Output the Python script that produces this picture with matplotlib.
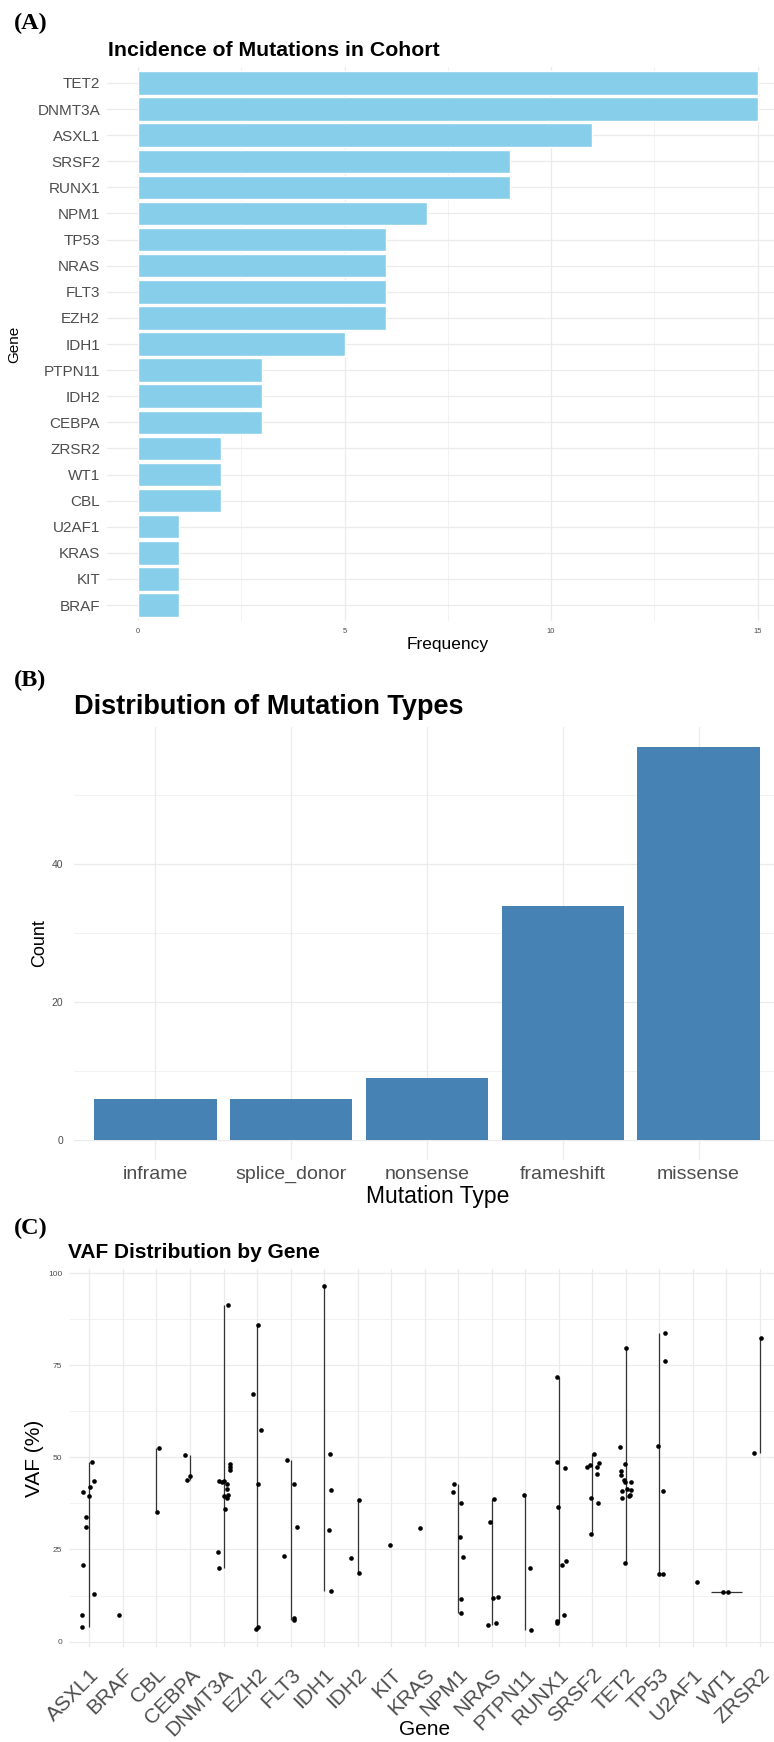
import matplotlib.pyplot as plt
import numpy as np

plt.rcParams['font.family'] = ['Liberation Sans', 'DejaVu Sans']

# ---- data: panel A (incidence of mutations)
genesA = ['TET2', 'DNMT3A', 'ASXL1', 'SRSF2', 'RUNX1', 'NPM1', 'TP53', 'NRAS', 'FLT3', 'EZH2', 'IDH1',
          'PTPN11', 'IDH2', 'CEBPA', 'ZRSR2', 'WT1', 'CBL', 'U2AF1', 'KRAS', 'KIT', 'BRAF']
freqA = [15, 15, 11, 9, 9, 7, 6, 6, 6, 6, 5, 3, 3, 3, 2, 2, 2, 1, 1, 1, 1]

# ---- data: panel B (mutation types)
typesB = ['inframe', 'splice_donor', 'nonsense', 'frameshift', 'missense']
countsB = [6, 6, 9, 34, 57]

# ---- data: panel C (VAF per gene, long format)
genesC = ['ASXL1', 'BRAF', 'CBL', 'CEBPA', 'DNMT3A', 'EZH2', 'FLT3', 'IDH1', 'IDH2', 'KIT', 'KRAS',
          'NPM1', 'NRAS', 'PTPN11', 'RUNX1', 'SRSF2', 'TET2', 'TP53', 'U2AF1', 'WT1', 'ZRSR2']
pt_gene = (['ASXL1'] * 11 + ['BRAF'] + ['CBL'] * 2 + ['CEBPA'] * 3 + ['DNMT3A'] * 15 + ['EZH2'] * 6
           + ['FLT3'] * 6 + ['IDH1'] * 5 + ['IDH2'] * 3 + ['KIT'] + ['KRAS'] + ['NPM1'] * 7 + ['NRAS'] * 6
           + ['PTPN11'] * 3 + ['RUNX1'] * 9 + ['SRSF2'] * 9 + ['TET2'] * 15 + ['TP53'] * 6 + ['U2AF1']
           + ['WT1'] * 2 + ['ZRSR2'] * 2)
pt_vaf = [48.8, 43.7, 41.9, 40.7, 39.5, 33.9, 31.0, 20.9, 12.9, 7.1, 4.1,
          7.1,
          52.6, 35.3,
          50.6, 43.8, 45.0,
          91.3, 48.1, 47.3, 46.6, 43.6, 43.2, 43.7, 42.9, 41.4, 39.4, 39.8, 39.0, 36.0, 24.3, 20.1,
          86.0, 67.3, 57.5, 42.8, 4.1, 3.3,
          49.2, 42.8, 31.1, 23.2, 6.5, 5.9,
          96.4, 51.0, 41.2, 30.3, 13.8,
          22.7, 38.5, 18.7,
          26.1,
          30.8,
          42.7, 40.7, 37.7, 28.3, 22.9, 11.6, 7.7,
          38.8, 32.4, 11.8, 12.0, 5.0, 4.5,
          39.7, 20.0, 3.2,
          71.9, 48.8, 47.2, 36.4, 20.9, 22.0, 7.1, 5.7, 5.1,
          50.9, 47.4, 47.8, 47.5, 48.5, 45.6, 39.1, 37.6, 29.2,
          79.7, 52.7, 48.3, 46.4, 45.2, 43.8, 43.3, 43.3, 41.4, 40.8, 41.1, 39.9, 39.5, 39.0, 21.3,
          83.6, 76.2, 53.2, 41.0, 18.4, 18.4,
          16.1,
          13.5, 13.5,
          82.5, 51.2]
# horizontal jitter of each point (gene units), as seen in the picture
pt_jitter = [0.07, 0.15, 0.02, -0.20, -0.01, -0.11, -0.10, -0.18, 0.14, -0.21, -0.22,
             -0.13,
             0.08, 0.01,
             -0.16, -0.08, 0.01,
             0.14, 0.20, 0.18, 0.19, -0.12, -0.04, 0.01, 0.10, 0.11, 0.0, 0.12, 0.10, 0.03, -0.17, -0.14,
             0.04, -0.13, 0.13, 0.04, 0.04, -0.04,
             -0.10, 0.10, 0.18, -0.19, 0.10, 0.09,
             -0.01, 0.19, 0.21, 0.15, 0.21,
             -0.19, 0.04, 0.04,
             -0.04,
             -0.14,
             -0.11, -0.14, 0.09, 0.06, 0.13, 0.09, 0.07,
             0.07, -0.05, 0.05, 0.20, 0.12, -0.10,
             -0.03, 0.14, 0.16,
             -0.05, -0.06, 0.18, -0.02, 0.09, 0.21, 0.16, -0.05, -0.06,
             0.04, -0.16, -0.07, 0.14, 0.19, 0.14, -0.03, 0.17, -0.05,
             0.0, -0.16, -0.03, -0.15, -0.14, -0.06, -0.01, 0.15, 0.04, -0.12, 0.17, 0.12, 0.11, -0.11, -0.03,
             0.16, 0.17, -0.04, 0.11, -0.02, 0.11,
             0.13,
             -0.09, 0.05,
             0.03, -0.18]

GRID = '#EBEBEB'
TICK = '#4D4D4D'
W, H = 774, 1742


def minimal(ax):
    for s in ax.spines.values():
        s.set_visible(False)
    ax.tick_params(which='both', length=0)
    ax.set_axisbelow(True)
    ax.grid(which='major', color=GRID, lw=0.9)
    ax.grid(which='minor', color=GRID, lw=0.45)


def box(left, top, right, bottom):
    return [left / W, 1 - bottom / H, (right - left) / W, (bottom - top) / H]


def labels(ax, xlab, xsize, xy, ylab, ysize, yx):
    # axis titles placed by their centre, in axes fraction
    ax.set_xlabel(xlab, fontsize=xsize, va='center')
    ax.xaxis.set_label_coords(xy[0], xy[1])
    ax.set_ylabel(ylab, fontsize=ysize, va='center')
    ax.yaxis.set_label_coords(yx, 0.5)


fig = plt.figure(figsize=(W / 100, H / 100), dpi=100)

# ---------------- Panel A
A = (107, 67.3, 788.6, 620.7)
axA = fig.add_axes(box(*A))
minimal(axA)
yA = np.arange(len(genesA))
axA.barh(yA, freqA, height=0.9, color='#87CEEB', edgecolor='white', lw=1.0)
axA.set_ylim(len(genesA) - 0.4, -0.6)
axA.set_xlim(-0.75, 15.75)
axA.set_yticks(yA)
axA.set_yticklabels(genesA, fontsize=11, color=TICK)
axA.set_xticks([0, 5, 10, 15])
axA.set_xticks([2.5, 7.5, 12.5], minor=True)
axA.tick_params(axis='x', labelsize=5.5, labelcolor=TICK, pad=5)
axA.tick_params(axis='y', pad=5)
axA.grid(which='minor', axis='y', visible=False)
labels(axA, 'Frequency', 12.5, (0.5, (A[3] - 645) / (A[3] - A[1])),
       'Gene', 11, (14 - A[0]) / (A[2] - A[0]))
fig.text(108 / W, 1 - 51 / H, 'Incidence of Mutations in Cohort', fontsize=15.3, weight='bold', va='center')

# ---------------- Panel B
B = (74, 727, 780, 1160)
axB = fig.add_axes(box(*B))
minimal(axB)
xB = np.arange(len(typesB))
axB.bar(xB, countsB, width=0.9, color='#4682B4')
axB.set_xlim(-0.6, len(typesB) - 0.4)
axB.set_ylim(-2.85, 59.85)
axB.set_xticks(xB)
axB.set_xticklabels(typesB, fontsize=14, color=TICK)
axB.set_yticks([0, 20, 40])
axB.set_yticks([10, 30, 50], minor=True)
axB.tick_params(axis='y', labelsize=7.5, labelcolor=TICK, pad=8)
axB.tick_params(axis='x', pad=4)
axB.grid(which='minor', axis='x', visible=False)
labels(axB, 'Mutation Type', 16.5, ((438 - B[0]) / (B[2] - B[0]), (B[3] - 1196) / (B[3] - B[1])),
       'Count', 13, (40 - B[0]) / (B[2] - B[0]))
fig.text(74 / W, 1 - 707 / H, 'Distribution of Mutation Types', fontsize=19.5, weight='bold', va='center')

# ---------------- Panel C
C = (69.3, 1269, 780, 1647)
axC = fig.add_axes(box(*C))
minimal(axC)
pt_gene = np.array(pt_gene)
pt_vaf = np.array(pt_vaf)
pt_x = np.array([genesC.index(g) for g in pt_gene]) + np.array(pt_jitter)
for i, g in enumerate(genesC):
    v = pt_vaf[pt_gene == g]
    if len(v) < 2:
        continue
    if v.max() - v.min() > 0:
        axC.vlines(i, v.min(), v.max(), color='#333333', lw=0.9)
    else:
        axC.hlines(v[0], i - 0.46, i + 0.46, color='#333333', lw=0.9)
axC.scatter(pt_x, pt_vaf, s=11, color='black', zorder=3, lw=0)
axC.set_xlim(-0.6, len(genesC) - 0.4)
axC.set_ylim(-1.46, 101.1)
axC.set_xticks(range(len(genesC)))
axC.set_xticklabels(genesC, fontsize=15, color=TICK, rotation=45, ha='right', va='top',
                    rotation_mode='anchor')
axC.set_yticks([0, 25, 50, 75, 100])
axC.set_yticks([12.5, 37.5, 62.5, 87.5], minor=True)
axC.tick_params(axis='y', labelsize=6, labelcolor=TICK, pad=5)
axC.tick_params(axis='x', pad=13)
axC.grid(which='minor', axis='x', visible=False)
labels(axC, 'Gene', 15, (0.5, (C[3] - 1729) / (C[3] - C[1])),
       'VAF (%)', 15, (34 - C[0]) / (C[2] - C[0]))
fig.text(68 / W, 1 - 1253 / H, 'VAF Distribution by Gene', fontsize=15, weight='bold', va='center')

# panel letters
for lab, yy in [('(A)', 23), ('(B)', 680), ('(C)', 1228)]:
    fig.text(14 / W, 1 - yy / H, lab, fontsize=17.5, weight='bold', va='center',
             family=['Liberation Serif', 'DejaVu Serif'])

fig.savefig('out.png', dpi=100)
